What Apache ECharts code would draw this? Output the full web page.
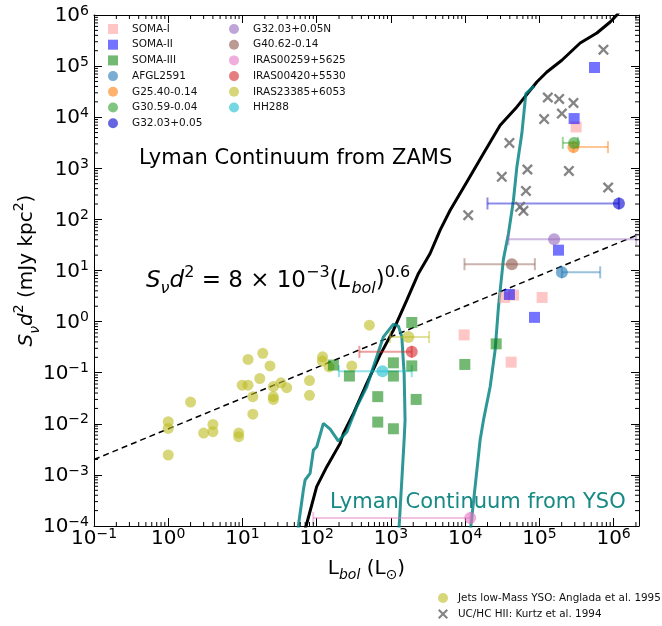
<!DOCTYPE html>
<html><head><meta charset="utf-8">
<script src="https://cdn.jsdelivr.net/npm/echarts@6/dist/echarts.min.js"></script>
<style>html,body{margin:0;padding:0;background:#fff}#c{width:662px;height:626px}</style>
</head><body><div id="c"></div>
<script>
// ---------- axis ranges / tick labels ----------
const xMin = 0.1, xMax = 2.2e6, yMin = 1e-4, yMax = 1e6;
const xMinorTicks = [];
const yMinorTicks = [];
for (let e = -4; e <= 6; e++) for (let m = 2; m <= 9; m++) {
  const v = m * Math.pow(10, e);
  if (v > xMin && v < xMax && e >= -1) xMinorTicks.push(v);
  if (v > yMin && v < yMax) yMinorTicks.push(v);
}

// ---------- data [Lbol, S d^2] ----------
const somaI   = [[3.13e5, 6450], [3.39e4, 2.97], [4.48e4, 3.3], [1.09e5, 2.97], [9.7e3, 0.55], [4.17e4, 0.161]];
const somaII  = [[5.53e5, 9.4e4], [2.94e5, 9.4e3], [1.81e5, 25], [3.95e4, 3.4], [8.6e4, 1.21]];
const somaIII = [[1.91e3, 0.96], [168, 0.141], [276, 0.086], [1.08e3, 0.156], [1.08e3, 0.086], [1.91e3, 0.136],
                 [665, 0.034], [665, 0.0108], [1.08e3, 0.008], [2.19e3, 0.030], [2.62e4, 0.367], [9.9e3, 0.145]];
const afgl2591 = [[2.01e5, 9.2]];          const afgl2591Err = [[2.01e5, 6.6e5, 9.2]];
const g2540 = [[2.88e5, 2600]];            const g2540Err = [[2.88e5, 8.4e5, 2600]];
const g3059 = [[2.94e5, 3140]];            const g3059Err = [[2.07e5, 3.3e5, 3140]];
const g3203 = [[1.18e6, 205]];             const g3203Err = [[2.0e4, 1.18e6, 205]];
const g3203N = [[1.58e5, 41]];             const g3203NErr = [[3.84e4, 2.02e6, 41]];
const g4062 = [[4.26e4, 13.3]];            const g4062Err = [[9.8e3, 8.7e4, 13.3]];
const iras00259 = [[1.17e4, 1.43e-4]];     const iras00259Err = [[90, 1.17e4, 1.43e-4]];
const iras00420 = [[1.91e3, 0.256]];       const iras00420Err = [[376, 1.91e3, 0.256]];
const iras23385 = [[1.72e3, 0.50]];        const iras23385Err = [[975, 3.27e3, 0.50]];
const hh288 = [[769, 0.107]];              const hh288Err = [[199, 1.91e3, 0.107]];
const anglada = [[1.0, 0.011], [1.0, 0.0081], [1.0, 0.00245], [2.0, 0.0266], [3.0, 0.0066], [4.0, 0.0097], [4.0, 0.0070],
  [8.9, 0.0066], [8.9, 0.0056], [9.9, 0.057], [11.9, 0.057], [11.9, 0.182], [13.8, 0.034], [13.8, 0.0154], [17.1, 0.077],
  [18.8, 0.239], [23.5, 0.136], [26.1, 0.0535], [26, 0.034], [26.1, 0.030], [33, 0.0635], [39.5, 0.051], [80, 0.070],
  [80, 0.036], [119, 0.169], [120, 0.205], [147, 0.13], [297, 0.136], [513, 0.853]];
const kurtz = [[7.3e5, 2.1e5], [1.30e5, 2.43e4], [1.85e5, 2.28e4], [2.88e5, 1.9e4], [1.16e5, 9.2e3], [2.01e5, 1.18e4],
  [3.95e4, 3.14e3], [3.12e4, 680], [6.9e4, 947], [6.6e4, 361], [2.5e5, 889], [8.45e5, 421], [1.1e4, 121],
  [5.5e4, 176], [6.1e4, 147]];
const zamsCurve = [[60.5, 4e-5], [72, 1e-4], [100, 5.9e-4], [137, 1.45e-3], [207, 4.14e-3], [229, 6.5e-3], [313, 0.016],
  [473, 0.0618], [714, 0.221], [1081, 0.681], [1637, 2.63], [2350, 8.75], [3373, 21.5], [4603, 61.5], [6281, 151],
  [10540, 542], [17660, 1945], [29650, 6966], [49770, 15890], [92470, 48980], [126200, 76740], [200900, 130000],
  [354800, 283100], [595700, 444600], [899500, 729500], [1107000, 1000000], [1300000, 1400000]];
const ysoCurveLow = [[55, 4e-5], [56.6, 1e-4], [66.2, 5.06e-4], [69.8, 7.94e-4], [81.5, 1.07e-3], [90.4, 3.06e-3],
  [100.2, 3.56e-3], [123, 0.0102], [152, 7.89e-3], [196, 4.59e-3], [255, 6.89e-3], [347, 0.0215], [473, 0.053],
  [581, 0.131], [793, 0.504], [1081, 0.893], [1262, 0.817], [1403, 0.504], [1507, 0.097], [1552, 0.0118],
  [1507, 4.81e-3], [1291, 9.8e-5], [1213, 2.1e-5]];
const ysoCurveHigh = [[11300, 2.1e-5], [11940, 9.8e-5], [15920, 4.81e-3], [17660, 0.0118], [21730, 0.053], [25350, 0.277],
  [28120, 1.945], [32810, 16.7], [38370, 53.1], [44770, 237.7], [49770, 1064], [58070, 4786], [65770, 29040],
  [67920, 31190], [85110, 40360]];
const fitLine = [[0.1, 0.002], [2.2e6, 51]];

// ---------- styling ----------
const FONT = 'DejaVu Sans';
const X_PATH = 'path://M1.5,0 L5,3.5 L8.5,0 L10,1.5 L6.5,5 L10,8.5 L8.5,10 L5,6.5 L1.5,10 L0,8.5 L3.5,5 L0,1.5 Z';
const TEAL = 'rgba(0,128,128,0.82)';

function powLabel(v) {
  const l = Math.log10(v), e = Math.round(l);
  if (Math.abs(l - e) > 1e-3) return '';
  return '{b|10}{s|' + (e < 0 ? '\u2212' + (-e) : e) + '}';
}
const tickRich = {
  b: {fontSize: 20, fontFamily: FONT, color: '#000', lineHeight: 22, verticalAlign: 'bottom'},
  s: {fontSize: 14, fontFamily: FONT, color: '#000', lineHeight: 12, verticalAlign: 'top'}
};

function sc(name, data, symbol, color, size, z) {
  return {type: 'scatter', name: name, data: data, symbol: symbol, symbolSize: size,
          itemStyle: {color: color, opacity: 1}, z: z || 4, silent: true};
}
function err(name, data, color) {
  return {type: 'custom', name: name + ' (err)', data: data, z: 3, silent: true, clip: true,
    encode: {x: [0, 1], y: 2},
    renderItem: function (params, api) {
      const a = api.coord([api.value(0), api.value(2)]);
      const b = api.coord([api.value(1), api.value(2)]);
      const cap = 6, st = {stroke: color, lineWidth: 2, fill: null};
      return {type: 'group', children: [
        {type: 'line', shape: {x1: a[0], y1: a[1], x2: b[0], y2: b[1]}, style: st},
        {type: 'line', shape: {x1: a[0], y1: a[1] - cap, x2: a[0], y2: a[1] + cap}, style: st},
        {type: 'line', shape: {x1: b[0], y1: b[1] - cap, x2: b[0], y2: b[1] + cap}, style: st}
      ]};
    }};
}
function line(name, data, color, width, type, z) {
  return {type: 'line', name: name, data: data, showSymbol: false, symbol: 'none', clip: true, silent: true,
          lineStyle: {color: color, width: width, type: type || 'solid', dashOffset: 0}, z: z || 2};
}

const C = {
  somaI: 'rgba(255,160,160,0.6)', somaII: 'rgba(0,0,255,0.55)', somaIII: 'rgba(0,128,0,0.55)',
  afgl: 'rgba(31,119,180,0.6)', g2540: 'rgba(255,127,14,0.6)', g3059: 'rgba(44,160,44,0.6)',
  g3203: 'rgba(0,0,205,0.6)', g3203N: 'rgba(148,103,189,0.6)', g4062: 'rgba(140,86,75,0.6)',
  i00259: 'rgba(227,119,194,0.6)', i00420: 'rgba(214,39,40,0.6)', i23385: 'rgba(188,189,34,0.6)',
  hh288: 'rgba(23,190,207,0.6)', kurtz: 'rgba(110,110,110,0.85)'
};
const E = (c) => c.replace(/0\.\d+\)$/, '0.45)');

const chart = echarts.init(document.getElementById('c'));
const baseAxis = {type: 'log', logBase: 10, splitLine: {show: false}, splitNumber: 10,
  axisLine: {show: true, lineStyle: {color: '#000', width: 1}},
  axisTick: {show: true, inside: true, length: 8, lineStyle: {color: '#000', width: 1}}};
const legendText = (fs, pad) => ({fontSize: fs, fontFamily: FONT, color: '#111', lineHeight: 12, padding: [0, 0, 0, pad]});

chart.setOption({
  animation: false,
  backgroundColor: '#fff',
  grid: {left: 94, top: 15, right: 23, bottom: 100, containLabel: false},
  xAxis: [
    Object.assign({}, baseAxis, {min: xMin, max: xMax, position: 'bottom',
      axisLabel: {formatter: powLabel, rich: tickRich, margin: 1, showMinLabel: true, showMaxLabel: true},
      name: 'L{sub|bol} (L{sun|\u2299})', nameLocation: 'middle', nameGap: 30,
      nameTextStyle: {fontSize: 20, fontFamily: FONT, color: '#000', lineHeight: 26,
        rich: {sub: {fontSize: 14, fontStyle: 'italic', fontFamily: FONT, verticalAlign: 'bottom', lineHeight: 14, color: '#000'},
               sun: {fontSize: 14, fontFamily: FONT, verticalAlign: 'bottom', lineHeight: 14, color: '#000'}}}}),
    Object.assign({}, baseAxis, {min: xMin, max: xMax, position: 'top', axisLabel: {show: false}})
  ],
  yAxis: [
    Object.assign({}, baseAxis, {min: yMin, max: yMax, position: 'left',
      axisLabel: {formatter: powLabel, rich: tickRich, margin: 5, showMinLabel: true, showMaxLabel: true},
      name: '{i|S}{sub|\u03bd}{i|d}{sup|2} (mJy kpc{sup|2})', nameLocation: 'middle', nameGap: 52, nameRotate: 90,
      nameMoveOverlap: false,
      nameTextStyle: {fontSize: 20, fontFamily: FONT, color: '#000', lineHeight: 30,
        rich: {i: {fontSize: 20, fontStyle: 'italic', fontFamily: FONT, color: '#000'},
               sub: {fontSize: 14, fontStyle: 'italic', fontFamily: FONT, verticalAlign: 'bottom', lineHeight: 14, color: '#000'},
               sup: {fontSize: 14, fontFamily: FONT, verticalAlign: 'top', lineHeight: 14, color: '#000'}}}}),
    Object.assign({}, baseAxis, {min: yMin, max: yMax, position: 'right', axisLabel: {show: false}})
  ],
  legend: [
    {data: ['SOMA-I', 'SOMA-II', 'SOMA-III', 'AFGL2591', 'G25.40-0.14', 'G30.59-0.04', 'G32.03+0.05'],
     orient: 'vertical', left: 108, top: 23, padding: 0, itemWidth: 10, itemHeight: 10, itemGap: 3.7, selectedMode: false,
     textStyle: legendText(10.5, 9)},
    {data: ['G32.03+0.05N', 'G40.62-0.14', 'IRAS00259+5625', 'IRAS00420+5530', 'IRAS23385+6053', 'HH288'],
     orient: 'vertical', left: 229, top: 23, padding: 0, itemWidth: 10, itemHeight: 10, itemGap: 3.7, selectedMode: false,
     textStyle: legendText(10.5, 9)},
    {data: ['Jets low-Mass YSO: Anglada et al. 1995', 'UC/HC HII: Kurtz et al. 1994'],
     orient: 'vertical', left: 438, top: 592, padding: 0, itemWidth: 10, itemHeight: 10, itemGap: 4, selectedMode: false,
     textStyle: legendText(10.4, 5)}
  ],
  graphic: [
    {type: 'text', x: 139, y: 159, silent: true,
     style: {text: 'Lyman Continuum from ZAMS', fontSize: 21, fontFamily: FONT, fill: '#000', textVerticalAlign: 'middle'}},
    {type: 'text', x: 330, y: 503, silent: true,
     style: {text: 'Lyman Continuum from YSO', fontSize: 21, fontFamily: FONT, fill: '#178a85', textVerticalAlign: 'middle'}},
    {type: 'text', x: 146, y: 281, silent: true,
     style: {text: '{i|S}{sub|\u03bd}{i|d}{sup|2}{n| = 8 \u00d7 10}{sup|\u22123}{n|(}{i|L}{sub|bol}{n|)}{sup|0.6}',
       textVerticalAlign: 'middle', fontFamily: FONT,
       rich: {i: {fontSize: 23, fontStyle: 'italic', fontFamily: FONT, fill: '#000', lineHeight: 32},
              n: {fontSize: 23, fontFamily: FONT, fill: '#000', lineHeight: 32},
              sub: {fontSize: 16, fontStyle: 'italic', fontFamily: FONT, fill: '#000', verticalAlign: 'bottom', lineHeight: 15},
              sup: {fontSize: 16, fontFamily: FONT, fill: '#000', verticalAlign: 'top', lineHeight: 15}}}}
  ],
  series: [
    line('fit', fitLine, '#000', 1.5, [6, 4], 2),
    line('ZAMS', zamsCurve, '#000', 3, 'solid', 2),
    line('YSO low', ysoCurveLow, TEAL, 3, 'solid', 2),
    line('YSO high', ysoCurveHigh, TEAL, 3, 'solid', 2),
    err('AFGL2591', afgl2591Err, E(C.afgl)),
    err('G25.40-0.14', g2540Err, E(C.g2540)),
    err('G30.59-0.04', g3059Err, E(C.g3059)),
    err('G32.03+0.05', g3203Err, E(C.g3203)),
    err('G32.03+0.05N', g3203NErr, E(C.g3203N)),
    err('G40.62-0.14', g4062Err, E(C.g4062)),
    err('IRAS00259+5625', iras00259Err, E(C.i00259)),
    err('IRAS00420+5530', iras00420Err, E(C.i00420)),
    err('IRAS23385+6053', iras23385Err, E(C.i23385)),
    err('HH288', hh288Err, E(C.hh288)),
    sc('Jets low-Mass YSO: Anglada et al. 1995', anglada, 'circle', C.i23385, 11),
    sc('UC/HC HII: Kurtz et al. 1994', kurtz, X_PATH, C.kurtz, 11),
    sc('SOMA-I', somaI, 'rect', C.somaI, 11),
    sc('SOMA-II', somaII, 'rect', C.somaII, 11),
    sc('SOMA-III', somaIII, 'rect', C.somaIII, 11),
    sc('AFGL2591', afgl2591, 'circle', C.afgl, 12, 5),
    sc('G25.40-0.14', g2540, 'circle', C.g2540, 12, 5),
    sc('G30.59-0.04', g3059, 'circle', C.g3059, 12, 5),
    sc('G32.03+0.05', g3203, 'circle', C.g3203, 12, 5),
    sc('G32.03+0.05N', g3203N, 'circle', C.g3203N, 12, 5),
    sc('G40.62-0.14', g4062, 'circle', C.g4062, 12, 5),
    sc('IRAS00259+5625', iras00259, 'circle', C.i00259, 12, 5),
    sc('IRAS00420+5530', iras00420, 'circle', C.i00420, 12, 5),
    sc('IRAS23385+6053', iras23385, 'circle', C.i23385, 12, 5),
    sc('HH288', hh288, 'circle', C.hh288, 12, 5),
    {type: 'custom', name: 'x minor ticks', data: xMinorTicks.map(v => [v, 1]), silent: true, clip: false, z: 10,
     renderItem: function (params, api) {
       const v = api.value(0);
       const b = api.coord([v, yMin]), t = api.coord([v, yMax]);
       const st = {stroke: '#000', lineWidth: 1};
       return {type: 'group', children: [
         {type: 'line', shape: {x1: b[0], y1: b[1], x2: b[0], y2: b[1] - 4}, style: st},
         {type: 'line', shape: {x1: t[0], y1: t[1], x2: t[0], y2: t[1] + 4}, style: st}]};
     }},
    {type: 'custom', name: 'y minor ticks', data: yMinorTicks.map(v => [1, v]), silent: true, clip: false, z: 10,
     renderItem: function (params, api) {
       const v = api.value(1);
       const l = api.coord([xMin, v]), r = api.coord([xMax, v]);
       const st = {stroke: '#000', lineWidth: 1};
       return {type: 'group', children: [
         {type: 'line', shape: {x1: l[0], y1: l[1], x2: l[0] + 4, y2: l[1]}, style: st},
         {type: 'line', shape: {x1: r[0], y1: r[1], x2: r[0] - 4, y2: r[1]}, style: st}]};
     }}
  ]
});
</script></body></html>
